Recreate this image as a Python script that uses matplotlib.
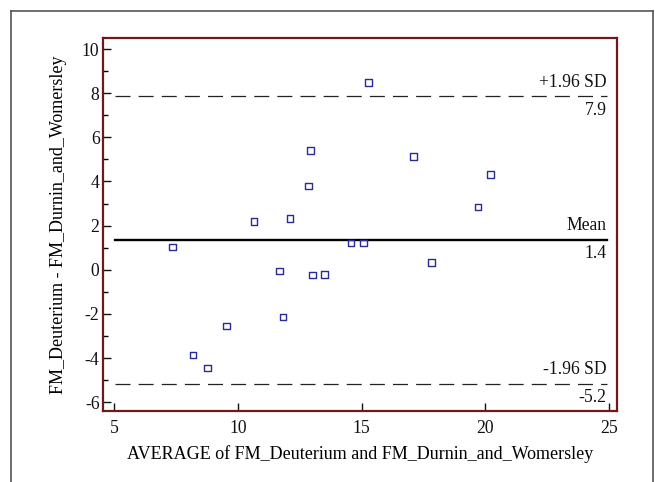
import numpy as np
import matplotlib.pyplot as plt
from matplotlib.lines import Line2D

plt.rcParams['font.family'] = ['Liberation Serif', 'DejaVu Serif']
plt.rcParams['axes.unicode_minus'] = False

# Averages and differences
avg = [7.36, 10.65, 12.11, 12.85, 12.95, 11.67, 13.03, 13.49, 15.29, 17.11,
       20.22, 19.70, 14.57, 15.09, 17.81, 11.82, 9.55, 8.19, 8.76]
diff = [1.03, 2.20, 2.34, 3.79, 5.42, -0.06, -0.24, -0.20, 8.49, 5.14,
        4.33, 2.84, 1.21, 1.21, 0.33, -2.14, -2.55, -3.86, -4.45]

mean_diff = 1.35
upper = 7.87
lower = -5.17

fig = plt.figure(figsize=(6.55, 4.82), dpi=100)
ax = fig.add_axes([103/655, 1 - 411/482, (617-103)/655, (411-38)/482])

# outer grey frame
top = 1 - 11/482
for xs, ys in [([11/655, 11/655], [0, top]),
               ([11/655, 653/655], [top, top]),
               ([653/655, 653/655], [0, top])]:
    fig.add_artist(Line2D(xs, ys, color='#555555', lw=1.2))

ax.scatter(avg, diff, marker='s', s=24, facecolors='none',
           edgecolors='#2b2b96', linewidths=1.0, zorder=3)

ax.plot([5.05, 24.9], [mean_diff, mean_diff], color='black', lw=1.7)
ax.plot([5.05, 24.9], [upper, upper], color='#222222', lw=0.9, dashes=(12, 6.5))
ax.plot([5.05, 24.9], [lower, lower], color='#222222', lw=0.9, dashes=(12, 6.5))

lab = dict(ha='right', fontsize=12.7, color='#111111')
ax.text(24.9, upper + 0.25, '+1.96 SD', va='bottom', **lab)
ax.text(24.9, upper - 0.25, '7.9', va='top', **lab)
ax.text(24.9, mean_diff + 0.25, 'Mean', va='bottom', **lab)
ax.text(24.9, mean_diff - 0.25, '1.4', va='top', **lab)
ax.text(24.9, lower + 0.25, '-1.96 SD', va='bottom', **lab)
ax.text(24.9, lower - 0.25, '-5.2', va='top', **lab)

ax.set_xlim(4.55, 25.32)
ax.set_ylim(-6.4, 10.5)
ax.set_xticks([5, 10, 15, 20, 25])
ax.set_yticks([-6, -4, -2, 0, 2, 4, 6, 8, 10])
ax.set_yticks(np.arange(-5, 10, 2), minor=True)
ax.tick_params(direction='in', length=6, width=1, labelsize=12.7, colors='#111111')
ax.tick_params(axis='x', pad=6.5)
ax.tick_params(axis='y', pad=2.5)
ax.tick_params(which='minor', direction='in', length=3.5, width=1)

for s in ax.spines.values():
    s.set_color('#6e1a1a')
    s.set_linewidth(1.6)

ax.set_xlabel('AVERAGE of FM_Deuterium and FM_Durnin_and_Womersley', fontsize=13, labelpad=6)
ax.set_ylabel('FM_Deuterium - FM_Durnin_and_Womersley', fontsize=13, labelpad=11)

fig.savefig('out.png', dpi=100)
